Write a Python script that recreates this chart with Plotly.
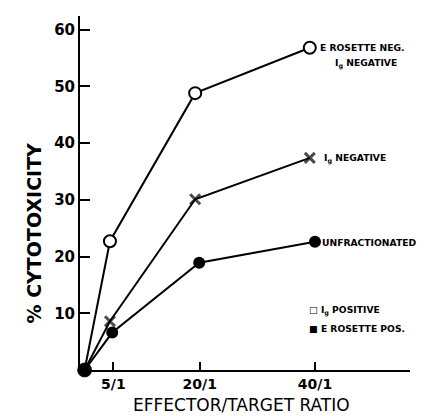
import plotly.graph_objects as go

# Data
ratio_open = [0, 4.4, 19.2, 39.1]          # E rosette neg / Ig negative
cyto_open = [0, 22.7, 48.8, 56.8]
ratio_x = [0, 4.4, 19.2, 39.1]             # Ig negative
cyto_x = [0, 8.6, 30.1, 37.4]
ratio_filled = [0, 4.8, 19.9, 40.0]        # unfractionated
cyto_filled = [0, 6.6, 18.9, 22.6]

x_tick_vals = [5, 20, 40]
x_tick_text = ["5/1", "20/1", "40/1"]
y_tick_vals = [10, 20, 30, 40, 50, 60]
y_tick_text = ["10", "20", "30", "40", "50", "60"]

FONT = "DejaVu Sans"

fig = go.Figure()

fig.add_trace(go.Scatter(
    x=ratio_filled, y=cyto_filled, mode="lines+markers",
    line=dict(color="black", width=2),
    marker=dict(symbol="circle", size=12, color="black"),
    showlegend=False, cliponaxis=False))

fig.add_trace(go.Scatter(
    x=ratio_x, y=cyto_x, mode="lines+markers",
    line=dict(color="black", width=2),
    marker=dict(symbol=["circle", "x-thin", "x-thin", "x-thin"], size=[12, 10, 10, 10],
                color="black", line=dict(color="black", width=3)),
    showlegend=False, cliponaxis=False))

fig.add_trace(go.Scatter(
    x=ratio_open, y=cyto_open, mode="lines+markers",
    line=dict(color="black", width=2),
    marker=dict(symbol="circle", size=12,
                color=["black", "white", "white", "white"],
                line=dict(color="black", width=2)),
    showlegend=False, cliponaxis=False))

ann_font = dict(family=FONT, size=9.2, color="black")
annotations = [
    dict(x=40.6, y=56.8, text="<b>E ROSETTE NEG.</b>", xanchor="left"),
    dict(x=43.1, y=54.0, text="<b>I<sub>g</sub> NEGATIVE</b>", xanchor="left"),
    dict(x=41.2, y=37.3, text="<b>I<sub>g</sub> NEGATIVE</b>", xanchor="left"),
    dict(x=40.9, y=22.4, text="<b>UNFRACTIONATED</b>", xanchor="left"),
    dict(x=38.6, y=10.5, text="<b>□ I<sub>g</sub> POSITIVE</b>", xanchor="left"),
    dict(x=38.6, y=7.3, text="<b>■ E ROSETTE POS.</b>", xanchor="left"),
]
for a in annotations:
    a.update(xref="x", yref="y", showarrow=False, yanchor="middle", font=ann_font)

annotations.append(dict(
    xref="paper", yref="paper", x=0.488, y=-0.133, text="EFFECTOR/TARGET RATIO",
    showarrow=False, xanchor="center", yanchor="bottom",
    font=dict(family=FONT, size=17, color="black")))
annotations.append(dict(
    xref="paper", yref="paper", x=-0.139, y=0.386, text="<b>% CYTOTOXICITY</b>",
    textangle=-90, showarrow=False, xanchor="center", yanchor="middle",
    font=dict(family=FONT, size=19, color="black")))

fig.update_layout(
    width=425, height=416,
    margin=dict(l=72, r=23, t=8, b=54),
    paper_bgcolor="white", plot_bgcolor="white",
    annotations=annotations,
    xaxis=dict(range=[-0.8, 56.5], tickvals=x_tick_vals,
               ticktext=["<b>" + t + "</b>" for t in x_tick_text],
               ticks="inside", ticklen=8, tickwidth=2, tickcolor="black",
               showline=True, linecolor="black", linewidth=2,
               showgrid=False, zeroline=False,
               tickfont=dict(family=FONT, size=14, color="black")),
    yaxis=dict(range=[0, 62.4], tickvals=y_tick_vals,
               ticktext=["<b>" + t + "</b>" for t in y_tick_text],
               ticks="inside", ticklen=10, tickwidth=2, tickcolor="black",
               showline=True, linecolor="black", linewidth=2,
               showgrid=False, zeroline=False,
               tickfont=dict(family=FONT, size=15, color="black")),
)

fig.write_html("out.html")
